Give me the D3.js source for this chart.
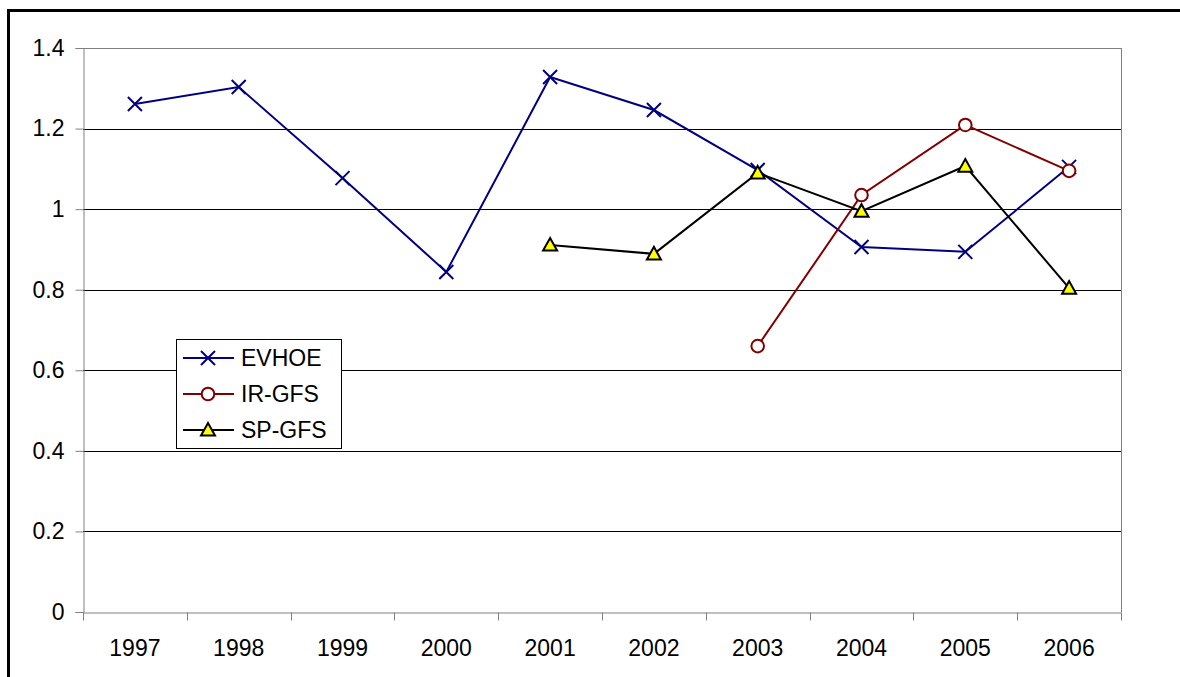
<!DOCTYPE html>
<html><head><meta charset="utf-8">
<script src="https://cdn.jsdelivr.net/npm/d3@7"></script>
<style>body{margin:0;background:#fff;}svg{display:block;font-family:"Liberation Sans",Arial,sans-serif;}</style>
</head><body>
<svg id="c" width="1180" height="677"></svg>
<script>
const years = ["1997","1998","1999","2000","2001","2002","2003","2004","2005","2006"];
const evhoe = [1.261,1.303,1.077,0.844,1.328,1.246,1.097,0.906,0.894,1.105];
const irgfs = [null,null,null,null,null,null,0.660,1.035,1.209,1.095];
const spgfs = [null,null,null,null,0.911,0.889,1.090,0.995,1.107,0.804];
const yTicks = [0,0.2,0.4,0.6,0.8,1,1.2,1.4];
const seriesNames = ["EVHOE","IR-GFS","SP-GFS"];

const svg = d3.select("#c");
const L=83, R=1121, T=48, B=612;
const FS = 23;
// outer frame
svg.append("rect").attr("x",8.5).attr("y",10.5).attr("width",1190).attr("height",700)
  .attr("fill","none").attr("stroke","#000").attr("stroke-width",3);

const x = d3.scaleBand().domain(years).range([L,R]);
const y = d3.scaleLinear().domain([0,1.4]).range([B,T]);

// gridlines
svg.append("g").selectAll("line").data(yTicks.filter(d=>d>0)).join("line")
  .attr("x1",L).attr("x2",R).attr("y1",d=>Math.round(y(d))+0.5).attr("y2",d=>Math.round(y(d))+0.5)
  .attr("stroke","#000").attr("stroke-width",1);
// borders
svg.append("line").attr("x1",R+0.5).attr("x2",R+0.5).attr("y1",T).attr("y2",B).attr("stroke","#808080");
svg.append("line").attr("x1",L).attr("x2",R).attr("y1",T+0.5).attr("y2",T+0.5).attr("stroke","#808080");

// y axis
const ya = svg.append("g").attr("transform",`translate(${L+0.5},0)`)
  .call(d3.axisLeft(y).tickValues(yTicks).tickFormat(d=>d===0?"0":(d===1?"1":d3.format(".1f")(d))).tickSize(8).tickPadding(11));
ya.select(".domain").attr("stroke","#808080");
ya.selectAll(".tick line").attr("stroke","#808080");
ya.selectAll("text").attr("font-size",FS).attr("fill","#000").attr("font-family","Liberation Sans, Arial, sans-serif");

// x axis
const xa = svg.append("g").attr("transform",`translate(0,${B+0.5})`)
  .call(d3.axisBottom(x).tickSize(0));
xa.select(".domain").attr("stroke","#808080");
xa.selectAll("text").attr("font-size",FS).attr("fill","#000").attr("y",43).attr("dy",0)
  .attr("font-family","Liberation Sans, Arial, sans-serif");
xa.selectAll(".xt").data(d3.range(years.length+1)).join("line")
  .attr("x1",i=>Math.round(L+i*x.step())+0.5).attr("x2",i=>Math.round(L+i*x.step())+0.5)
  .attr("y1",0).attr("y2",8).attr("stroke","#808080");

const cx = i=>x(years[i])+x.bandwidth()/2;
const line = d3.line().defined(d=>d.v!=null).x(d=>cx(d.i)).y(d=>y(d.v));
function pts(arr){return arr.map((v,i)=>({v,i}));}

const colors = ["#000080","#800000","#000000"];
const data = [evhoe, irgfs, spgfs];

function drawMarker(g, k, px, py){
  if(k===0){
    const s=7;
    g.append("path").attr("d",`M${px-s},${py-s}L${px+s},${py+s}M${px-s},${py+s}L${px+s},${py-s}`)
      .attr("stroke",colors[0]).attr("stroke-width",2).attr("fill","none");
  } else if(k===1){
    g.append("circle").attr("cx",px).attr("cy",py).attr("r",6.3)
      .attr("fill","#fff").attr("stroke",colors[1]).attr("stroke-width",2);
  } else {
    const s=7;
    g.append("path").attr("d",`M${px},${py-s}L${px+s},${py+s*0.8}L${px-s},${py+s*0.8}Z`)
      .attr("fill","#ffff00").attr("stroke","#000").attr("stroke-width",2);
  }
}

data.forEach((arr,k)=>{
  const g = svg.append("g");
  g.append("path").datum(pts(arr)).attr("d",line).attr("fill","none")
    .attr("stroke",colors[k]).attr("stroke-width",2);
  pts(arr).filter(d=>d.v!=null).forEach(d=>drawMarker(g,k,cx(d.i),y(d.v)));
});

// legend
const lg = svg.append("g");
lg.append("rect").attr("x",176.5).attr("y",339.5).attr("width",165).attr("height",109)
  .attr("fill","#fff").attr("stroke","#000").attr("stroke-width",1);
const ly=[358,394,430];
seriesNames.forEach((n,k)=>{
  lg.append("line").attr("x1",183).attr("x2",234).attr("y1",ly[k]).attr("y2",ly[k])
    .attr("stroke",colors[k]).attr("stroke-width",2);
  drawMarker(lg,k,208,ly[k]);
  lg.append("text").attr("x",241).attr("y",ly[k]+8).attr("font-size",FS).text(n);
});
</script>
</body></html>
